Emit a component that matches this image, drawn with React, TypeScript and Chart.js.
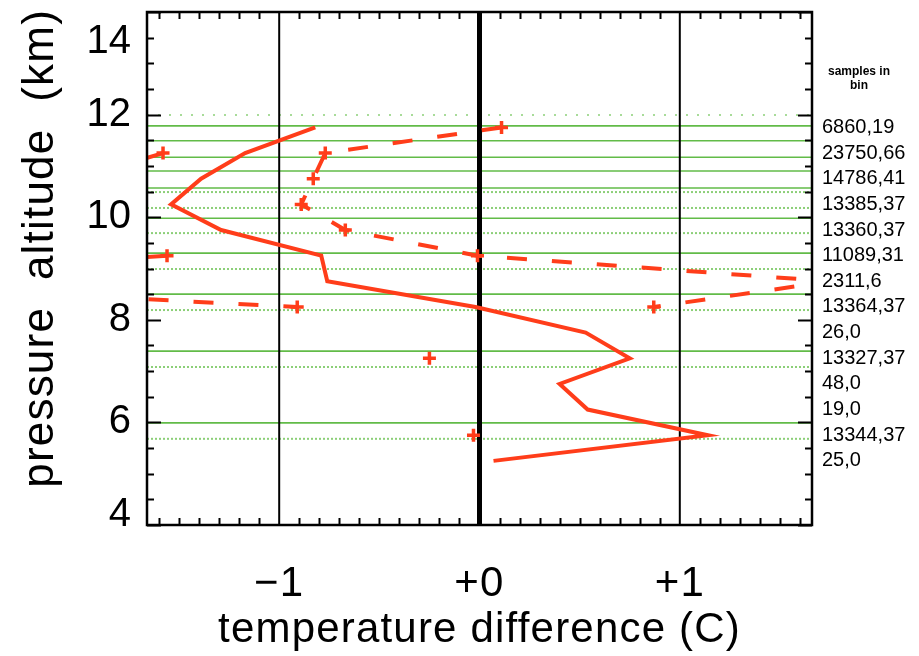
import React, { useEffect, useRef } from 'react';
import { Chart, registerables } from 'chart.js';

Chart.register(...registerables);

// ---- axis ranges & ticks ----
const X_MIN = -1.66;
const X_MAX = 1.66;
const Y_MIN = 4;
const Y_MAX = 14;
const X_TICKS = [-1, 0, 1];
const Y_TICKS = [4, 6, 8, 10, 12, 14];

// ---- bins (pressure altitude, km) ----
const BIN_ALT = [11.75, 11.25, 10.75, 10.25, 9.75, 9.25, 8.75, 8.25, 7.75, 7.25, 6.75, 6.25, 5.75, 5.25];
const BIN_COUNTS = [
  '6860,19', '23750,66', '14786,41', '13385,37', '13360,37', '11089,31', '2311,6',
  '13364,37', '26,0', '13327,37', '48,0', '19,0', '13344,37', '25,0',
];

// ---- temperature difference series (C) ----
const SOLID_DIFF = [-0.82, -1.17, -1.39, -1.54, -1.29, -0.79, -0.76, -0.02, 0.53, 0.75, 0.40, 0.54, 1.14, 0.07];
const DASHED_DIFF = [0.11, -0.77, -0.83, -0.89, -0.67, -0.01, 1.75, 0.87, null, -0.25, null, null, -0.03, null];
const DASHED2_DIFF = [null, -1.58, -2.0, null, null, -1.56, -3.4, -0.91, null, null, null, null, null, null];

// ---- green sample rows (altitudes, km) ----
const GREEN_SOLID_ALT = [11.78, 11.49, 11.17, 10.9, 10.57, 9.98, 9.3, 8.5, 7.39, 5.99];
const GREEN_DOTTED_ALT = [10.49, 10.18, 9.69, 8.99, 8.19, 7.08, 5.68];
const GREEN_SPARSE_ALT = [11.99];

// ---- reference verticals ----
const REF_X = [-1, 0, 1];
const REF_WIDTH = [2, 5, 2];

const RED = '#ff3d1a';
const GREEN = '#62bb48';
const GREEN_LIGHT = '#8ccf78';
const FONT = '"Liberation Sans", Arial, sans-serif';

const spacingPlugin = {
  id: 'spacing',
  beforeDraw(chart: any) {
    chart.ctx.letterSpacing = '1.2px';
  },
  beforeDatasetsDraw(chart: any) {
    chart.ctx.letterSpacing = '0px';
  },
};

const framePlugin = {
  id: 'frame',
  afterDraw(chart: any) {
    const { ctx, chartArea: a, scales } = chart;
    const x = scales.x;
    const y = scales.y;
    ctx.save();
    ctx.letterSpacing = '0px';
    ctx.strokeStyle = '#000';
    ctx.lineWidth = 2;
    ctx.beginPath();
    for (let k = 0; k <= (Y_MAX - Y_MIN) * 2; k++) {
      const v = Y_MIN + k * 0.5;
      const py = Math.round(y.getPixelForValue(v)) + 0.5;
      const len = v % 2 === 0 ? 14 : 7;
      ctx.moveTo(a.left, py);
      ctx.lineTo(a.left + len, py);
      ctx.moveTo(a.right, py);
      ctx.lineTo(a.right - len, py);
    }
    for (let k = -16; k <= 16; k++) {
      if (k % 10 === 0) continue;
      const px = Math.round(x.getPixelForValue(k / 10)) + 0.5;
      ctx.moveTo(px, a.bottom);
      ctx.lineTo(px, a.bottom - 7);
      ctx.moveTo(px, a.top);
      ctx.lineTo(px, a.top + 7);
    }
    ctx.stroke();
    ctx.lineWidth = 2.5;
    ctx.strokeRect(a.left, a.top, a.right - a.left, a.bottom - a.top);

    ctx.fillStyle = '#000';
    ctx.font = `40px ${FONT}`;
    ctx.textAlign = 'right';
    ctx.textBaseline = 'middle';
    Y_TICKS.forEach((v) => {
      let py = y.getPixelForValue(v);
      py = Math.min(Math.max(py, a.top + 30), a.bottom - 10);
      ctx.fillText(String(v), a.left - 16, py);
    });

    ctx.font = `20px ${FONT}`;
    ctx.textAlign = 'left';
    BIN_ALT.forEach((alt, i) => {
      ctx.fillText(BIN_COUNTS[i], a.right + 10, y.getPixelForValue(alt));
    });
    ctx.font = `bold 12px ${FONT}`;
    ctx.textAlign = 'center';
    ctx.fillText('samples in', a.right + 47, a.top + 60);
    ctx.fillText('bin', a.right + 47, a.top + 74);
    ctx.restore();
  },
};

export default function App() {
  const ref = useRef<HTMLCanvasElement>(null);

  useEffect(() => {
    if (!ref.current) return;
    const toPts = (vals: (number | null)[]) => vals.map((v, i) => ({ x: v, y: BIN_ALT[i] }));
    const hline = (alt: number) => [{ x: X_MIN, y: alt }, { x: X_MAX, y: alt }];
    const vline = (xv: number) => [{ x: xv, y: Y_MIN }, { x: xv, y: Y_MAX }];

    const datasets: any[] = [
      {
        label: 'mean difference',
        data: toPts(SOLID_DIFF),
        showLine: true,
        borderColor: RED,
        borderWidth: 4,
        pointRadius: 0,
        order: 0,
      },
      {
        label: 'difference (dashed)',
        data: toPts(DASHED_DIFF),
        showLine: true,
        spanGaps: false,
        borderColor: RED,
        borderWidth: 4,
        borderDash: [20, 25],
        pointStyle: 'cross',
        pointRadius: 6.5,
        pointBorderWidth: 3.5,
        pointBorderColor: RED,
        pointBackgroundColor: RED,
        order: 1,
      },
      {
        label: 'difference (dashed 2)',
        data: toPts(DASHED2_DIFF),
        showLine: true,
        spanGaps: false,
        borderColor: RED,
        borderWidth: 4,
        borderDash: [20, 25],
        pointStyle: 'cross',
        pointRadius: 6.5,
        pointBorderWidth: 3.5,
        pointBorderColor: RED,
        pointBackgroundColor: RED,
        order: 2,
      },
      ...REF_X.map((xv, i) => ({
        label: 'ref ' + xv,
        data: vline(xv),
        showLine: true,
        borderColor: '#000',
        borderWidth: REF_WIDTH[i],
        pointRadius: 0,
        order: 3,
      })),
      ...GREEN_SOLID_ALT.map((alt) => ({
        label: 'rows',
        data: hline(alt),
        showLine: true,
        borderColor: GREEN,
        borderWidth: 1.6,
        pointRadius: 0,
        order: 5,
      })),
      ...GREEN_DOTTED_ALT.map((alt) => ({
        label: 'rows dotted',
        data: hline(alt),
        showLine: true,
        borderColor: GREEN_LIGHT,
        borderWidth: 2,
        borderDash: [2, 2],
        pointRadius: 0,
        order: 5,
      })),
      ...GREEN_SPARSE_ALT.map((alt) => ({
        label: 'rows sparse',
        data: hline(alt),
        showLine: true,
        borderColor: GREEN_LIGHT,
        borderWidth: 1.5,
        borderDash: [2, 9],
        pointRadius: 0,
        order: 5,
      })),
    ];

    const chart = new Chart(ref.current, {
      type: 'scatter',
      data: { datasets },
      plugins: [spacingPlugin, framePlugin],
      options: {
        animation: false,
        responsive: false,
        events: [],
        layout: { padding: { top: 12, right: 107, left: 0, bottom: 0 } },
        plugins: { legend: { display: false }, tooltip: { enabled: false } },
        scales: {
          x: {
            type: 'linear',
            min: X_MIN,
            max: X_MAX,
            afterBuildTicks: (s: any) => {
              s.ticks = X_TICKS.map((v) => ({ value: v }));
            },
            afterFit: (s: any) => {
              s.height = 131;
            },
            ticks: {
              autoSkip: false,
              maxRotation: 0,
              padding: 34,
              color: '#000',
              font: { size: 42, family: FONT },
              callback: (v: any) => (v === 0 ? '+0' : v > 0 ? '+' + v : '\u2212' + Math.abs(v)),
            },
            grid: { display: false, drawTicks: false },
            border: { display: false },
            title: {
              display: true,
              text: 'temperature difference (C)',
              color: '#000',
              font: { size: 42, family: FONT },
              padding: 0,
            },
          },
          y: {
            type: 'linear',
            min: Y_MIN,
            max: Y_MAX,
            afterFit: (s: any) => {
              s.width = 147;
            },
            ticks: { display: false },
            grid: { display: false, drawTicks: false },
            border: { display: false },
            title: {
              display: true,
              text: '   pressure  altitude  (km)',
              color: '#000',
              font: { size: 44, family: FONT },
              padding: { top: 14, bottom: 0 },
            },
          },
        },
      },
    });
    return () => chart.destroy();
  }, []);

  return (
    <div style={{ position: 'fixed', left: 0, top: 0, width: 919, height: 656, background: '#fff' }}>
      <canvas ref={ref} width={919} height={656} style={{ display: 'block' }} />
    </div>
  );
}
